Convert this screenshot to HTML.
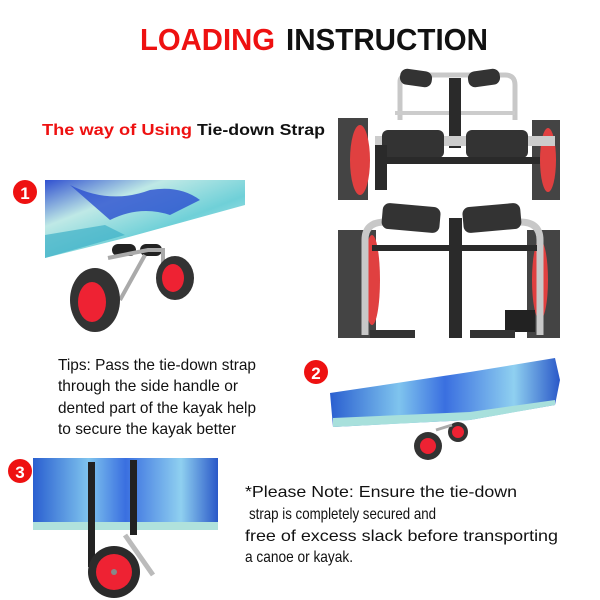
<!DOCTYPE html>
<html><head><meta charset="utf-8"><style>
html,body{margin:0;padding:0;background:#fff;width:600px;height:600px;overflow:hidden}
svg text{font-family:"Liberation Sans",sans-serif}
</style></head><body>
<svg width="600" height="600" viewBox="0 0 600 600" xmlns="http://www.w3.org/2000/svg">
<defs>
<linearGradient id="kb" x1="0" y1="0" x2="1" y2="0">
<stop offset="0" stop-color="#2a5fd0"/><stop offset="0.3" stop-color="#7fc4ee"/><stop offset="0.5" stop-color="#3a6fe0"/><stop offset="0.8" stop-color="#8fd0f0"/><stop offset="1" stop-color="#2a58c8"/>
</linearGradient>
<linearGradient id="k1" x1="0" y1="0" x2="1" y2="1">
<stop offset="0" stop-color="#3050d0"/><stop offset="0.3" stop-color="#bfe9e6"/><stop offset="0.6" stop-color="#6fd0d8"/><stop offset="1" stop-color="#e6f4f2"/>
</linearGradient>
</defs>
<!-- Title -->
<text x="140" y="50" font-size="31" font-weight="bold" fill="#ee1111" textLength="135" lengthAdjust="spacingAndGlyphs">LOADING</text>
<text x="286" y="50" font-size="31" font-weight="bold" fill="#111" textLength="202" lengthAdjust="spacingAndGlyphs">INSTRUCTION</text>
<text x="42" y="135" font-size="16" font-weight="bold" fill="#ee1111" textLength="150" lengthAdjust="spacingAndGlyphs">The way of Using</text>
<text x="197" y="135" font-size="16" font-weight="bold" fill="#111" textLength="128" lengthAdjust="spacingAndGlyphs">Tie-down Strap</text>

<!-- Photo 1 -->
<polygon points="45,180 245,180 245,205 125,238 45,258" fill="url(#k1)"/>
<path d="M70,185 q40,20 80,5 q30,-5 50,10 l-30,15 q-30,-10 -60,5 z" fill="#2a4fd0" opacity="0.8"/>
<path d="M45,235 l60,-10 l20,10 l-80,23 z" fill="#3fb0c8" opacity="0.7"/>
<rect x="112" y="244" width="24" height="12" rx="6" fill="#222"/>
<rect x="140" y="244" width="22" height="12" rx="6" fill="#222"/>
<path d="M108,258 l40,-8 l15,0 l0,40 M120,300 l25,-45" stroke="#aaa" stroke-width="4" fill="none"/>
<ellipse cx="95" cy="300" rx="25" ry="32" fill="#333"/>
<ellipse cx="92" cy="302" rx="14" ry="20" fill="#ee2233"/>
<ellipse cx="175" cy="278" rx="19" ry="22" fill="#333"/>
<ellipse cx="173" cy="278" rx="11" ry="14" fill="#ee2233"/>
<circle cx="25" cy="192" r="12" fill="#ee1111"/>
<text x="25" y="199" font-size="17" font-weight="bold" fill="#fff" text-anchor="middle">1</text>

<!-- Right photos -->
<rect x="338" y="118" width="30" height="82" fill="#444"/>
<ellipse cx="360" cy="160" rx="10" ry="35" fill="#e04040"/>
<rect x="532" y="120" width="28" height="80" fill="#444"/>
<ellipse cx="548" cy="160" rx="8" ry="32" fill="#e04040"/>
<path d="M400,120 L400,82 Q400,75 410,75 L505,75 Q515,75 515,85 L515,120" stroke="#c8c8c8" stroke-width="5" fill="none"/>
<line x1="395" y1="113" x2="515" y2="113" stroke="#ccc" stroke-width="4"/>
<rect x="400" y="70" width="32" height="16" rx="7" fill="#333" transform="rotate(8 416 78)"/>
<rect x="468" y="70" width="32" height="16" rx="7" fill="#333" transform="rotate(-8 484 78)"/>
<rect x="449" y="78" width="12" height="70" fill="#2a2a2a"/>
<rect x="375" y="136" width="180" height="10" fill="#ccc"/>
<rect x="382" y="130" width="62" height="28" rx="6" fill="#333"/>
<rect x="466" y="130" width="62" height="28" rx="6" fill="#333"/>
<rect x="375" y="157" width="165" height="7" fill="#2a2a2a"/>
<rect x="375" y="145" width="12" height="45" fill="#2a2a2a"/>

<rect x="338" y="230" width="38" height="108" fill="#444"/>
<ellipse cx="372" cy="280" rx="8" ry="45" fill="#e04040"/>
<rect x="527" y="230" width="33" height="108" fill="#444"/>
<ellipse cx="540" cy="280" rx="8" ry="40" fill="#e04040"/>
<path d="M365,335 L365,240 Q365,222 385,222 M540,335 L540,240 Q540,222 520,222" stroke="#c8c8c8" stroke-width="7" fill="none"/>
<rect x="382" y="205" width="58" height="26" rx="7" fill="#333" transform="rotate(5 411 219)"/>
<rect x="463" y="205" width="58" height="26" rx="7" fill="#333" transform="rotate(-5 492 219)"/>
<rect x="372" y="245" width="165" height="6" fill="#2a2a2a"/>
<rect x="449" y="218" width="13" height="120" fill="#2a2a2a"/>
<rect x="505" y="310" width="30" height="22" fill="#222"/>
<rect x="370" y="330" width="45" height="8" fill="#333"/>
<rect x="470" y="330" width="45" height="8" fill="#333"/>

<!-- Tips -->
<g font-size="16" fill="#111">
<text x="58" y="370" textLength="198" lengthAdjust="spacingAndGlyphs">Tips: Pass the tie-down strap</text>
<text x="58" y="391" textLength="180" lengthAdjust="spacingAndGlyphs">through the side handle or</text>
<text x="58" y="413" textLength="198" lengthAdjust="spacingAndGlyphs">dented part of the kayak help</text>
<text x="58" y="434" textLength="178" lengthAdjust="spacingAndGlyphs">to secure the kayak better</text>
</g>
<circle cx="316" cy="372" r="12" fill="#ee1111"/>
<text x="316" y="379" font-size="17" font-weight="bold" fill="#fff" text-anchor="middle">2</text>

<!-- Kayak 2 -->
<polygon points="330,393 470,372 555,358 560,380 555,405 470,420 333,427" fill="url(#kb)"/>
<polygon points="333,418 470,412 555,400 555,405 470,420 333,427" fill="#a8e0dc"/>
<circle cx="428" cy="446" r="14" fill="#333"/><circle cx="428" cy="446" r="8" fill="#ee2233"/>
<circle cx="458" cy="432" r="10" fill="#333"/><circle cx="458" cy="432" r="6" fill="#ee2233"/>
<line x1="436" y1="430" x2="452" y2="425" stroke="#aaa" stroke-width="3"/>

<!-- Kayak 3 -->
<rect x="33" y="458" width="185" height="72" fill="url(#kb)"/>
<rect x="33" y="522" width="185" height="8" fill="#b0e2dc"/>
<rect x="88" y="462" width="7" height="105" fill="#222"/>
<rect x="130" y="460" width="7" height="75" fill="#222"/>
<path d="M125,535 l28,40" stroke="#bbb" stroke-width="5"/>
<circle cx="114" cy="572" r="26" fill="#2b2b2b"/>
<circle cx="114" cy="572" r="18" fill="#ee2233"/>
<circle cx="114" cy="572" r="3" fill="#888"/>
<circle cx="20" cy="471" r="12" fill="#ee1111"/>
<text x="20" y="478" font-size="17" font-weight="bold" fill="#fff" text-anchor="middle">3</text>

<!-- Note -->
<g font-size="16" fill="#111">
<text x="245" y="497" textLength="272" lengthAdjust="spacingAndGlyphs">*Please Note: Ensure the tie-down</text>
<text x="249" y="519" textLength="187" lengthAdjust="spacingAndGlyphs">strap is completely secured and</text>
<text x="245" y="541" textLength="313" lengthAdjust="spacingAndGlyphs">free of excess slack before transporting</text>
<text x="245" y="562" textLength="108" lengthAdjust="spacingAndGlyphs">a canoe or kayak.</text>
</g>
</svg>
</body></html>
